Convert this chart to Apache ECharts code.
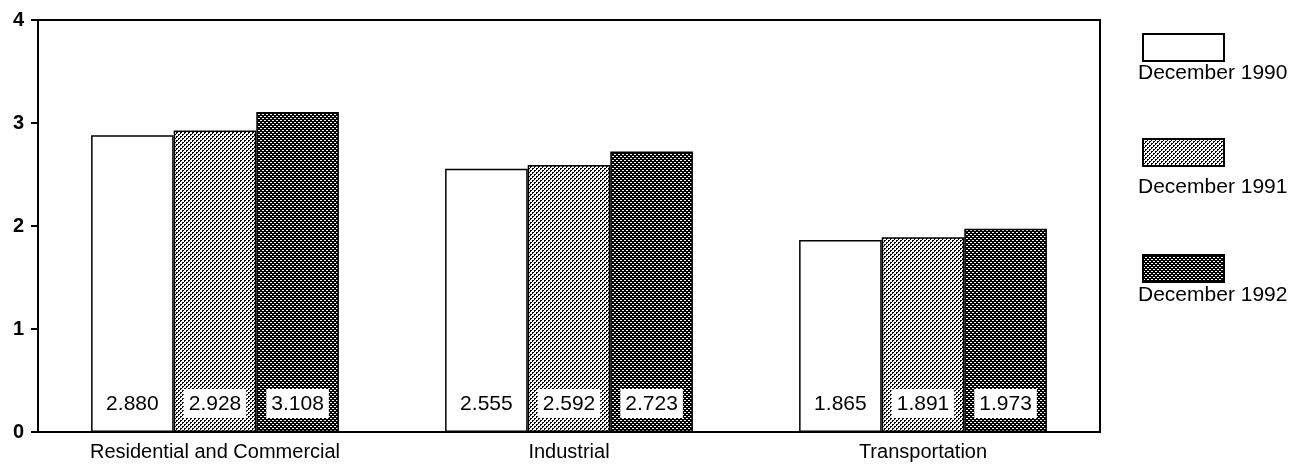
<!DOCTYPE html>
<html><head><meta charset="utf-8">
<script src="https://cdn.jsdelivr.net/npm/echarts@6/dist/echarts.min.js"></script>
<style>html,body{margin:0;padding:0;background:#fff}#c{width:1294px;height:469px}</style>
</head><body><div id="c"></div>
<script>
const categories = ['Residential and Commercial', 'Industrial', 'Transportation'];
const seriesNames = ['December 1990', 'December 1991', 'December 1992'];
const dec1990 = [2.880, 2.555, 1.865];
const dec1991 = [2.928, 2.592, 1.891];
const dec1992 = [3.108, 2.723, 1.973];
const yTicks = [0, 1, 2, 3, 4];

function makePattern(bg, fg, pts) {
  const c = document.createElement('canvas');
  c.width = 4; c.height = 4;
  const g = c.getContext('2d');
  g.fillStyle = bg; g.fillRect(0, 0, 4, 4);
  g.fillStyle = fg;
  pts.forEach(p => g.fillRect(p[0], p[1], 1, 1));
  return c;
}
const lightPat = makePattern('#ffffff', '#000000', [[0,0],[1,0],[2,2],[3,2],[0,1],[2,3]]);
const darkPat = makePattern('#000000', '#ffffff', [[0,0],[2,2],[1,0],[3,2]]);
const fills = ['#ffffff', {image: lightPat, repeat: 'repeat'}, {image: darkPat, repeat: 'repeat'}];
const dataSets = [dec1990, dec1991, dec1992];

const FONT = 'Liberation Sans, Arial, Helvetica, sans-serif';
const iconTops = [28, 133, 249];
const textTops = [58, 172, 280];
const legends = [];
seriesNames.forEach((n, i) => {
  legends.push({
    orient: 'vertical', left: 1137, top: iconTops[i], icon: 'rect',
    itemWidth: 81, itemHeight: 27, data: [n], selectedMode: false,
    formatter: () => ''
  });
  legends.push({
    orient: 'vertical', left: 1128, top: textTops[i], icon: 'rect',
    itemWidth: 0, itemHeight: 20, data: [n], selectedMode: false,
    itemStyle: {opacity: 0, borderWidth: 0},
    textStyle: {fontFamily: FONT, fontSize: 21, color: '#000'}
  });
});

const chart = echarts.init(document.getElementById('c'));
chart.setOption({
  animation: false,
  backgroundColor: '#fff',
  grid: {left: 38, right: 194, top: 20, bottom: 37, show: true, borderColor: '#000', borderWidth: 2, backgroundColor: 'transparent'},
  legend: legends,
  xAxis: {
    type: 'category', data: categories,
    axisLine: {lineStyle: {color: '#000', width: 2}},
    axisTick: {show: false},
    axisLabel: {fontFamily: FONT, fontSize: 20, color: '#000', margin: 10}
  },
  yAxis: {
    type: 'value', min: 0, max: 4, interval: 1,
    axisLine: {show: true, lineStyle: {color: '#000', width: 2}},
    axisTick: {show: true, length: 7, lineStyle: {color: '#000', width: 2}},
    splitLine: {show: false},
    axisLabel: {fontFamily: FONT, fontSize: 20, fontWeight: 'bold', color: '#000', margin: 14,
      formatter: v => yTicks.indexOf(v) >= 0 ? String(v) : ''}
  },
  series: seriesNames.map((n, i) => ({
    name: n, type: 'bar', data: dataSets[i],
    barGap: '0%', barCategoryGap: '30%',
    itemStyle: {color: fills[i], borderColor: '#000', borderWidth: 1.5},
    label: {
      show: true, position: 'insideBottom', distance: 14,
      formatter: p => p.value.toFixed(3),
      fontFamily: FONT, fontSize: 21, color: '#000',
      backgroundColor: '#fff', padding: [5, 5, 3, 5]
    }
  }))
});
</script></body></html>
